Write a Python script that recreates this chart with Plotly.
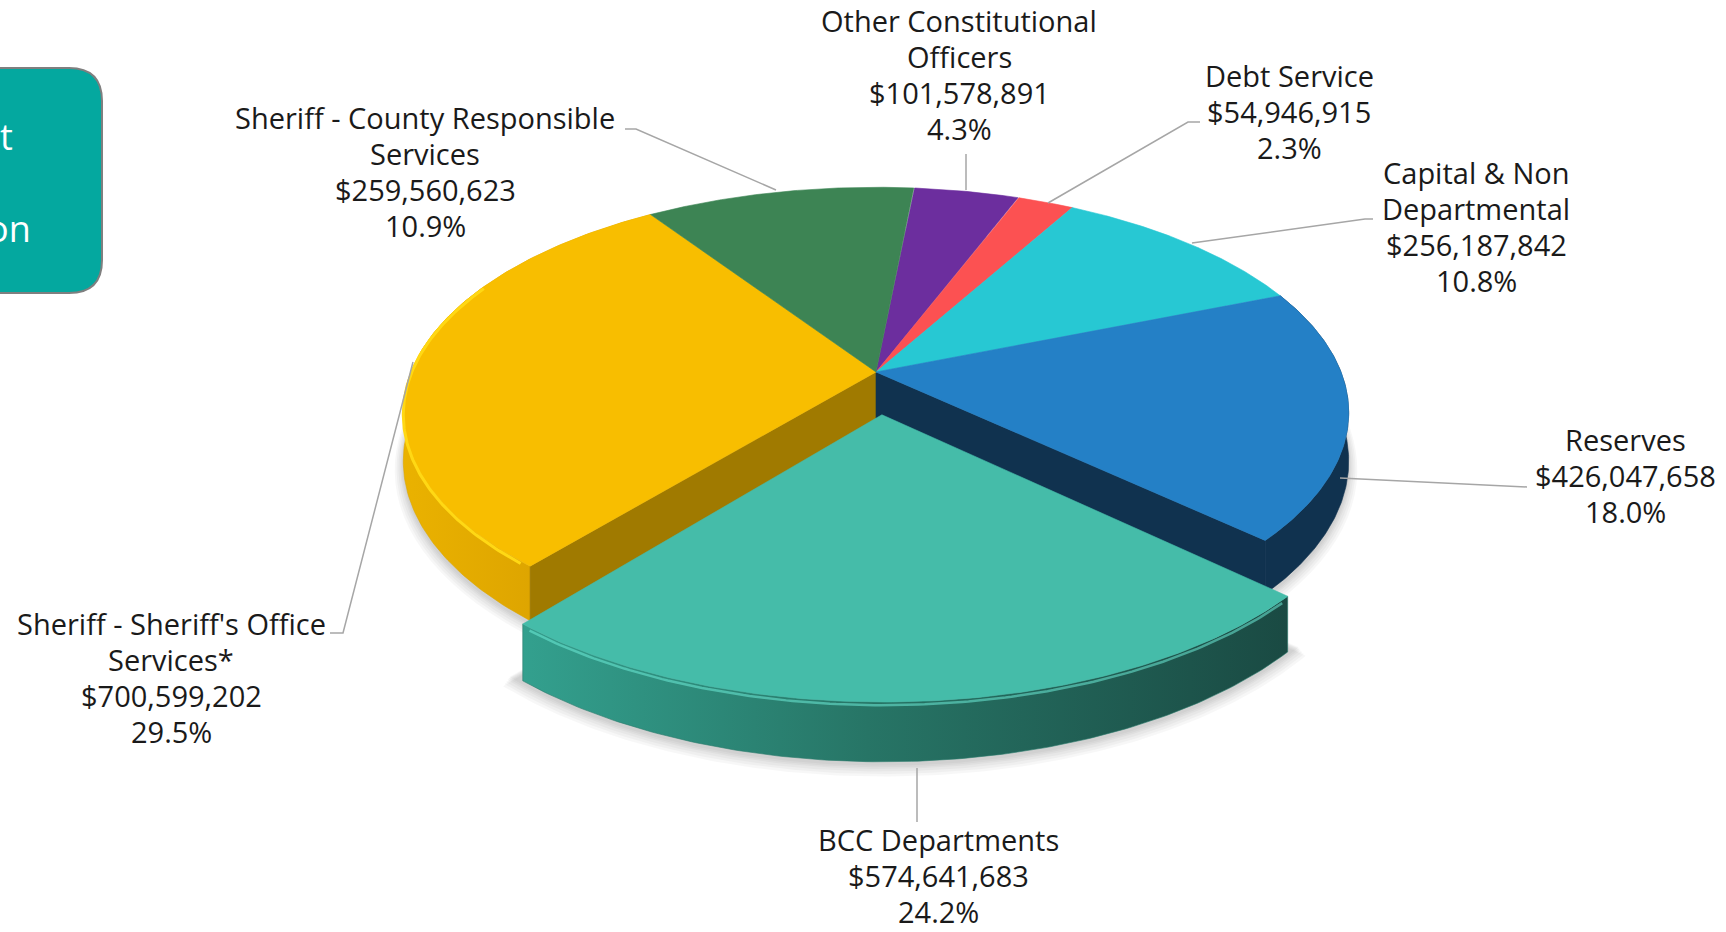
import numpy as np
import plotly.graph_objects as go

# ---- data -------------------------------------------------------------
categories = [
    "Other Constitutional<br>Officers",
    "Debt Service",
    "Capital & Non<br>Departmental",
    "Reserves",
    "BCC Departments",
    "Sheriff - Sheriff's Office<br>Services*",
    "Sheriff - County Responsible<br>Services",
]
amounts = [101578891, 54946915, 256187842, 426047658, 574641683, 700599202, 259560623]
percent_labels = ["4.3%", "2.3%", "10.8%", "18.0%", "24.2%", "29.5%", "10.9%"]

# ---- styling ----------------------------------------------------------
top_colors = ["#6C2E9E", "#FC5152", "#27C8D3", "#2480C6", "#45BCA9", "#F8BE00", "#3D8454"]
exploded = 4            # index of the pulled-out slice
explode_dist = 0.19
start_deg = 5.5         # first slice starts just clockwise of 12 o'clock

W, H = 1726, 932
CX, CY = 876.0, 372.0   # screen position of the pie centre
RX, RY, PERSP = 465.0, 218.0, 0.18
DEPTH = 47.0
FONT = "'Open Sans', Lato, sans-serif"
LABEL_SIZE = 29
LINE_GAP = 36


def project(u, v, h=0.0):
    """Tilted disk with a little perspective: v>0 is toward the viewer."""
    d = 1.0 - PERSP * np.asarray(v)
    return CX + RX * np.asarray(u) / d, CY + (RY * np.asarray(v) + h) / d


def arc(t0, t1, off=(0.0, 0.0), h=0.0, n=140):
    th = np.radians(np.linspace(t0, t1, n))
    return project(np.sin(th) + off[0], -np.cos(th) + off[1], h)


values = np.array(amounts, dtype=float)
shares = values / values.sum()
bounds = start_deg + 360.0 * np.concatenate([[0.0], np.cumsum(shares)])
offsets = []
for i in range(len(values)):
    if i == exploded:
        mid = np.radians((bounds[i] + bounds[i + 1]) / 2)
        offsets.append((explode_dist * np.sin(mid), -explode_dist * np.cos(mid)))
    else:
        offsets.append((0.0, 0.0))

fig = go.Figure()


def poly(xs, ys, color, gradient=None, line_color=None, lw=0.6):
    kw = dict(fill="toself", mode="lines", hoverinfo="skip", showlegend=False,
              line=dict(color=line_color or color, width=lw))
    if gradient is not None:
        kw["fillgradient"] = dict(type="horizontal", colorscale=gradient)
    else:
        kw["fillcolor"] = color
    fig.add_trace(go.Scatter(x=list(xs), y=list(ys), **kw))


def top_face(i):
    off = offsets[i]
    ax, ay = project(off[0], off[1])
    rx, ry = arc(bounds[i], bounds[i + 1], off)
    poly([ax, *rx, ax], [ay, *ry, ay], top_colors[i])


def side_face(i, t0, t1, color, gradient=None):
    off = offsets[i]
    tx, ty = arc(t0, t1, off)
    bx, by = arc(t0, t1, off, DEPTH)
    poly([*tx, *bx[::-1], tx[0]], [*ty, *by[::-1], ty[0]], color, gradient)


def wall(i, t, color):
    off = offsets[i]
    th = np.radians(t)
    u, v = np.sin(th) + off[0], -np.cos(th) + off[1]
    a0 = project(off[0], off[1])
    a1 = project(off[0], off[1], DEPTH)
    r0 = project(u, v)
    r1 = project(u, v, DEPTH)
    poly([a0[0], r0[0], r1[0], a1[0], a0[0]], [a0[1], r0[1], r1[1], a1[1], a0[1]], color)


# soft floor shadow, built up from faint layers
for g in [14, 11, 8, 5, 3, 1]:
    sc = 1.0 + g * 0.0013
    sx, sy = arc(0, 360, h=DEPTH + g * 0.35)
    cx0, cy0 = project(0, 0, DEPTH)
    poly(cx0 + (sx - cx0) * sc, cy0 + (sy - cy0) * sc + 3, "rgba(0,0,0,0.03)", lw=0)
    i = exploded
    ex, ey = arc(bounds[i] - 2, bounds[i + 1] + 2, offsets[i], h=DEPTH + g * 0.35)
    ex0, ey0 = project(offsets[i][0], offsets[i][1], DEPTH)
    poly([ex0, *(ex0 + (ex - ex0) * sc), ex0], [ey0, *(ey0 + (ey - ey0) * sc + 3), ey0],
         "rgba(0,0,0,0.03)", lw=0)

# outer rims and cut faces of the slices beside the gap
ys_i, bl_i = 5, 3
side_face(ys_i, bounds[ys_i], bounds[ys_i + 1], "#DCA600",
          gradient=[[0, "#EAB200"], [0.6, "#DCA300"], [1, "#C99400"]])
side_face(bl_i, bounds[bl_i], bounds[bl_i + 1], "#10324F")
wall(ys_i, bounds[ys_i], "#A07A00")
wall(bl_i, bounds[bl_i + 1], "#10324F")

# flat tops of the seated slices
for i in range(len(values)):
    if i != exploded:
        top_face(i)

# bevel glint on the yellow rim
hx, hy = arc(bounds[ys_i] + 1.5, bounds[ys_i] + 75, h=2.0)
fig.add_trace(go.Scatter(x=hx, y=hy, mode="lines", hoverinfo="skip", showlegend=False,
                         line=dict(color="#FFD814", width=3)))

# pulled-out slice
i = exploded
side_face(i, bounds[i], bounds[i + 1], "#2A7A6C",
          gradient=[[0, "#33A08E"], [0.45, "#277566"], [1, "#1A4A43"]])
top_face(i)
hx, hy = arc(bounds[i] + 1, bounds[i + 1] - 1, offsets[i], h=2.5)
fig.add_trace(go.Scatter(x=hx, y=hy, mode="lines", hoverinfo="skip", showlegend=False,
                         line=dict(color="rgba(110,235,215,0.55)", width=2.5)))

# ---- labels -----------------------------------------------------------
label_pos = [(959, 74), (1289, 111), (1476, 226), (1625, 475), (938, 875), (171, 677), (425, 171)]
leaders = [
    [(966, 154), (966, 190)],
    [(1200, 122), (1188, 122), (1048, 203)],
    [(1373, 219), (1365, 219), (1192, 243)],
    [(1527, 487), (1340, 478)],
    [(917, 768), (917, 822)],
    [(330, 633), (343, 633), (413, 362)],
    [(625, 129), (636, 129), (776, 190)],
]
for pts in leaders:
    fig.add_trace(go.Scatter(x=[p[0] for p in pts], y=[p[1] for p in pts], mode="lines",
                             hoverinfo="skip", showlegend=False,
                             line=dict(color="#A6A6A6", width=1.5)))

for name, val, pct, (lx, ly) in zip(categories, amounts, percent_labels, label_pos):
    lines = name.split("<br>") + [f"${val:,.0f}", pct]
    n = len(lines)
    for k, txt in enumerate(lines):
        fig.add_annotation(x=lx, y=ly + (k - (n - 1) / 2) * LINE_GAP, xref="x", yref="y",
                           showarrow=False, text=txt, xanchor="center", yanchor="middle",
                           font=dict(family=FONT, size=LABEL_SIZE, color="#1A1A1A"))

# rounded teal callout cut off at the left edge
fig.add_shape(type="path", xref="x", yref="y",
              path="M -60,68 L 69,68 Q 102,68 102,101 L 102,260 Q 102,293 69,293 L -60,293 Z",
              fillcolor="#04A89F", line=dict(color="#7F7F7F", width=2), layer="above")
fig.add_annotation(x=15, y=136, xref="x", yref="y", text="t", showarrow=False,
                   xanchor="right", yanchor="middle",
                   font=dict(family=FONT, size=36, color="#FFFFFF"))
fig.add_annotation(x=33, y=228, xref="x", yref="y", text="on", showarrow=False,
                   xanchor="right", yanchor="middle",
                   font=dict(family=FONT, size=36, color="#FFFFFF"))

fig.update_layout(
    width=W, height=H, margin=dict(l=0, r=0, t=0, b=0),
    paper_bgcolor="#FFFFFF", plot_bgcolor="#FFFFFF",
    xaxis=dict(range=[0, W], visible=False, fixedrange=True),
    yaxis=dict(range=[H, 0], visible=False, fixedrange=True),
    showlegend=False,
)
fig.write_html("out.html", config={"displayModeBar": False})
